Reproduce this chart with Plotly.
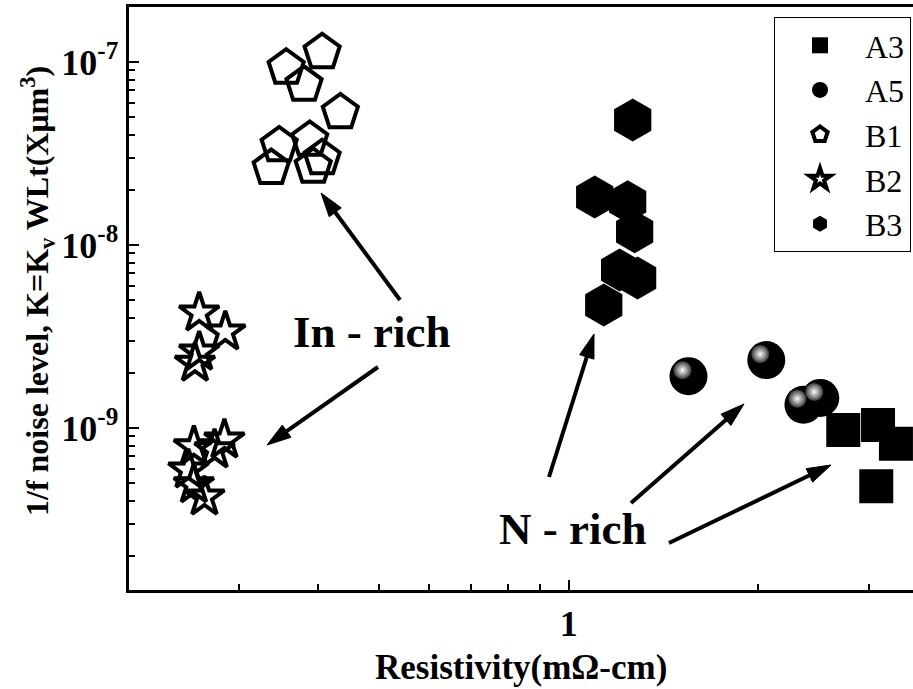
import math
import plotly.graph_objects as go

# ---- data: resistivity (mΩ-cm) vs 1/f noise level K ----
a3_rho = [2.73, 3.10, 3.31, 3.08]
a3_k = [9.75e-10, 1.04e-9, 8.2e-10, 4.8e-10]

a5_rho = [1.55, 2.06, 2.36, 2.51]
a5_k = [1.92e-9, 2.35e-9, 1.34e-9, 1.46e-9]

b1_rho = [0.406, 0.356, 0.380, 0.434, 0.347, 0.388, 0.406, 0.337, 0.393]
b1_k = [1.13e-7, 9.3e-8, 7.5e-8, 5.3e-8, 3.5e-8, 3.75e-8, 2.98e-8, 2.63e-8, 2.67e-8]

b2_rho = [0.259, 0.285, 0.259, 0.255, 0.254, 0.284, 0.274, 0.249, 0.254, 0.264]
b2_k = [4.25e-9, 3.35e-9, 2.6e-9, 2.26e-9, 7.9e-10, 8.6e-10, 7.6e-10, 5.9e-10, 4.9e-10, 4.2e-10]

b3_rho = [1.264, 1.10, 1.241, 1.273, 1.205, 1.287, 1.137]
b3_k = [4.82e-8, 1.83e-8, 1.72e-8, 1.18e-8, 7.3e-9, 6.6e-9, 4.7e-9]

x_major = [1]
x_major_text = ["1"]
x_minor = [0.3, 0.4, 0.5, 0.6, 0.7, 0.8, 0.9, 2, 3]
y_major = [1e-9, 1e-8, 1e-7]
y_major_text = ["10<sup>-9</sup>", "10<sup>-8</sup>", "10<sup>-7</sup>"]
y_minor = [m * 10.0 ** e for e in (-10, -9, -8) for m in range(2, 10)]

W, H = 913, 689
FONT = "Liberation Serif"

# plot area in pixels
left, right, top, bottom = 128.5, 913, 7, 590
xdom = [left / W, right / W]
ydom = [1 - bottom / H, 1 - top / H]
xrange_ = [math.log10(0.2), 0.5469]
yrange_ = [-9.885, -6.70]

fig = go.Figure()

fig.add_trace(go.Scatter(
    x=b1_rho, y=b1_k, mode="markers", name="B1", legendrank=3,
    marker=dict(symbol="pentagon-open", size=37, color="black",
                line=dict(width=4, color="black"))))
fig.add_trace(go.Scatter(
    x=b2_rho, y=b2_k, mode="markers", name="B2", legendrank=4,
    marker=dict(symbol="star-open", size=30, color="black",
                line=dict(width=4, color="black"))))
fig.add_trace(go.Scatter(
    x=b3_rho, y=b3_k, mode="markers", name="B3", legendrank=5,
    marker=dict(symbol="hexagon", size=43, color="black", line=dict(width=0))))
fig.add_trace(go.Scatter(
    x=a5_rho, y=a5_k, mode="markers", name="A5", legendrank=2,
    marker=dict(symbol="circle", size=38, color="black", line=dict(width=0))))
fig.add_trace(go.Scatter(
    x=a3_rho, y=a3_k, mode="markers", name="A3", legendrank=1,
    marker=dict(symbol="square", size=34, color="black", line=dict(width=0))))

# specular highlight on the A5 spheres, drawn on a slightly shifted copy of the axes
dx, dy = 6 / W, 6 / H
fig.add_trace(go.Scatter(
    x=a5_rho, y=a5_k, mode="markers", showlegend=False, hoverinfo="skip",
    xaxis="x2", yaxis="y2",
    marker=dict(symbol="circle", size=18, color="#383838",
                gradient=dict(type="radial", color="white"),
                line=dict(width=0))))

axis_font = dict(family=FONT, size=36, color="black", weight="bold")

fig.update_layout(
    width=W, height=H,
    margin=dict(l=0, r=0, t=0, b=0),
    paper_bgcolor="white", plot_bgcolor="rgba(0,0,0,0)",
    xaxis=dict(
        type="log", domain=xdom, range=xrange_, anchor="y",
        showline=True, linewidth=3, linecolor="black", mirror=True,
        showgrid=False, zeroline=False,
        ticks="inside", ticklen=10, tickwidth=2, tickcolor="black",
        tickvals=x_major, ticktext=x_major_text, tickfont=axis_font,
        minor=dict(tickvals=x_minor, ticks="inside", ticklen=6,
                   tickwidth=2, tickcolor="black", showgrid=False),
    ),
    yaxis=dict(
        type="log", domain=ydom, range=yrange_, anchor="x",
        showline=True, linewidth=3, linecolor="black", mirror=False,
        showgrid=False, zeroline=False,
        ticks="inside", ticklen=10, tickwidth=2, tickcolor="black",
        tickvals=y_major, ticktext=y_major_text, tickfont=axis_font,
        minor=dict(tickvals=y_minor, ticks="inside", ticklen=6,
                   tickwidth=2, tickcolor="black", showgrid=False),
    ),
    xaxis2=dict(type="log", domain=[xdom[0] - dx, xdom[1] - dx], range=xrange_,
                anchor="y2", visible=False),
    yaxis2=dict(type="log", domain=[ydom[0] + dy, ydom[1] + dy], range=yrange_,
                anchor="x2", visible=False),
    legend=dict(
        x=911 / W, xanchor="right", y=1 - 17 / H, yanchor="top",
        bgcolor="white", bordercolor="black", borderwidth=1,
        font=dict(family=FONT, size=32, color="black"),
        itemwidth=80, tracegroupgap=0,
    ),
    showlegend=True,
)

# axis titles
fig.add_annotation(
    text="Resistivity(mΩ-cm)", xref="paper", yref="paper",
    x=521 / W, y=1 - 667 / H, showarrow=False, xanchor="center", yanchor="middle",
    font=dict(family=FONT, size=35, color="black", weight="bold"))
fig.add_annotation(
    text="1/f noise level, K=K<sub>v</sub> WLt(Xμm<sup>3</sup>)",
    xref="paper", yref="paper", x=38 / W, y=1 - 291 / H, textangle=-90,
    showarrow=False, xanchor="center", yanchor="middle",
    font=dict(family=FONT, size=32, color="black", weight="bold"))

# group labels
label_font = dict(family=FONT, size=45, color="black", weight="bold")
fig.add_annotation(text="In - rich", xref="paper", yref="paper",
                   x=372 / W, y=1 - 332 / H, showarrow=False, font=label_font)
fig.add_annotation(text="N - rich", xref="paper", yref="paper",
                   x=572 / W, y=1 - 556 / H, showarrow=False, font=label_font)

# pointer arrows (tail -> head, pixel positions on the page)
arrows = [((400, 300), (321, 193)), ((378, 367), (267, 445)),
          ((549, 477), (594, 334)), ((631, 503), (744, 404)),
          ((669, 543), (831, 465))]


def to_paper(p):
    return p[0] / W, 1 - p[1] / H


head_len, head_half = 24, 7.5
for (tx, ty), (hx, hy) in arrows:
    L = math.hypot(hx - tx, hy - ty)
    ux, uy = (hx - tx) / L, (hy - ty) / L
    bx, by = hx - ux * head_len, hy - uy * head_len
    nx, ny = -uy, ux
    x0, y0 = to_paper((tx, ty))
    x1, y1 = to_paper((bx + ux * 2, by + uy * 2))
    fig.add_shape(type="line", xref="paper", yref="paper",
                  x0=x0, y0=y0, x1=x1, y1=y1,
                  line=dict(color="black", width=4))
    pts = [(hx, hy), (bx + nx * head_half, by + ny * head_half),
           (bx - nx * head_half, by - ny * head_half)]
    pp = [to_paper(p) for p in pts]
    path = "M {} {} L {} {} L {} {} Z".format(pp[0][0], pp[0][1], pp[1][0], pp[1][1],
                                              pp[2][0], pp[2][1])
    fig.add_shape(type="path", xref="paper", yref="paper", path=path,
                  fillcolor="black", line=dict(color="black", width=1))

fig.write_html("out.html")
